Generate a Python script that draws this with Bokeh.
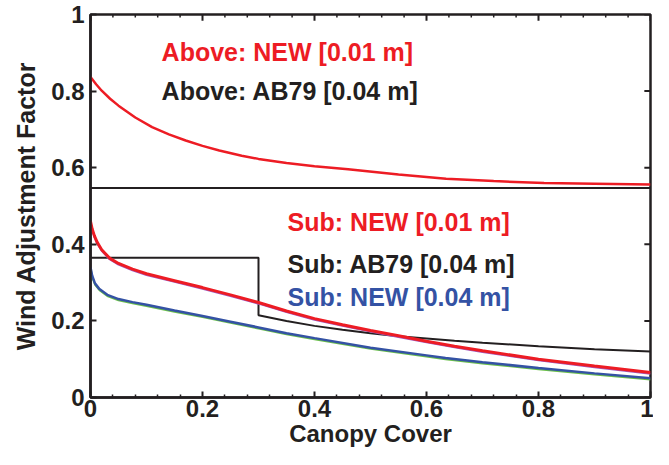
from bokeh.plotting import figure
from bokeh.models import FixedTicker, CustomJSTickFormatter, Range1d, Label
from bokeh.embed import file_html
from bokeh.resources import INLINE

# ---- data ----
above_new_x = [0, 0.01, 0.02, 0.035, 0.05, 0.08, 0.11, 0.14, 0.17, 0.2, 0.23, 0.27, 0.3, 0.35, 0.4, 0.46, 0.55, 0.635, 0.72, 0.81, 0.9, 1.0]
above_new_y = [0.837, 0.818, 0.801, 0.78, 0.762, 0.731, 0.706, 0.687, 0.671, 0.657, 0.645, 0.631, 0.623, 0.612, 0.604, 0.596, 0.582, 0.571, 0.565, 0.56, 0.558, 0.556]

above_ab79_x = [0, 1.0]
above_ab79_y = [0.547, 0.547]

sub_ab79_x = [0, 0.3, 0.3, 0.35, 0.4, 0.45, 0.5, 0.55, 0.6, 0.65, 0.7, 0.8, 0.9, 1.0]
sub_ab79_y = [0.365, 0.365, 0.215, 0.2, 0.187, 0.177, 0.168, 0.16, 0.154, 0.148, 0.143, 0.134, 0.126, 0.12]

sub_new01_x = [0, 0.003, 0.007, 0.012, 0.02, 0.034, 0.05, 0.075, 0.1, 0.15, 0.2, 0.25, 0.3, 0.35, 0.4, 0.45, 0.5, 0.55, 0.6, 0.65, 0.7, 0.8, 0.9, 1.0]
sub_new01_y = [0.46, 0.44, 0.422, 0.405, 0.386, 0.364, 0.35, 0.335, 0.323, 0.305, 0.287, 0.268, 0.248, 0.226, 0.206, 0.19, 0.175, 0.161, 0.147, 0.134, 0.122, 0.1, 0.082, 0.065]
sub_new01b_y = [0.457, 0.437, 0.419, 0.402, 0.383, 0.361, 0.347, 0.332, 0.32, 0.302, 0.284, 0.265, 0.245, 0.223, 0.203, 0.187, 0.172, 0.158, 0.144, 0.131, 0.119, 0.097, 0.079, 0.062]

sub_new04_x = [0, 0.003, 0.008, 0.016, 0.03, 0.05, 0.075, 0.1, 0.15, 0.2, 0.25, 0.3, 0.35, 0.4, 0.5, 0.6, 0.634, 0.7, 0.8, 0.9, 1.0]
sub_new04_y = [0.34, 0.318, 0.298, 0.283, 0.268, 0.257, 0.249, 0.242, 0.227, 0.213, 0.198, 0.183, 0.168, 0.155, 0.13, 0.11, 0.103, 0.092, 0.077, 0.063, 0.05]
sub_new04b_y = [0.337, 0.315, 0.295, 0.28, 0.265, 0.254, 0.246, 0.239, 0.224, 0.21, 0.195, 0.18, 0.165, 0.152, 0.127, 0.107, 0.1, 0.089, 0.074, 0.06, 0.047]

x_ticks = [0, 0.2, 0.4, 0.6, 0.8, 1.0]
x_minor = [0.04, 0.08, 0.12, 0.16, 0.24, 0.28, 0.32, 0.36, 0.44, 0.48, 0.52, 0.56,
           0.64, 0.68, 0.72, 0.76, 0.84, 0.88, 0.92, 0.96]
y_ticks = [0, 0.2, 0.4, 0.6, 0.8, 1.0]

labels = [
    ("Above: NEW [0.01 m]", 0.127, 0.903, "#ed1c24"),
    ("Above: AB79 [0.04 m]", 0.127, 0.800, "#231f20"),
    ("Sub: NEW [0.01 m]", 0.352, 0.458, "#ed1c24"),
    ("Sub: AB79 [0.04 m]", 0.352, 0.348, "#231f20"),
    ("Sub: NEW [0.04 m]", 0.352, 0.262, "#3452a4"),
]

RED = "#ed1c24"
BLACK = "#231f20"
BLUE = "#3452a4"
FONT = "Liberation Sans"

p = figure(width=653, height=449, output_backend="svg", toolbar_location=None,
           x_range=Range1d(0, 1), y_range=Range1d(0, 1),
           min_border_left=90, min_border_right=3, min_border_top=14, min_border_bottom=52)
p.background_fill_color = "white"
p.border_fill_color = "white"
p.xgrid.visible = False
p.ygrid.visible = False
p.outline_line_color = BLACK
p.outline_line_width = 2.5

fmt = CustomJSTickFormatter(code="return Number(tick.toFixed(1)).toString();")

def style_axis(ax, minor=True):
    ax.axis_line_color = BLACK
    ax.axis_line_width = 2.5
    ax.major_tick_in = 6
    ax.major_tick_out = 0
    ax.major_tick_line_width = 2
    ax.major_tick_line_color = BLACK
    ax.minor_tick_in = 3 if minor else 0
    ax.minor_tick_out = 0
    ax.minor_tick_line_width = 1.5
    ax.minor_tick_line_color = BLACK if minor else None
    ax.formatter = fmt
    ax.major_label_text_font = FONT
    ax.major_label_text_font_style = "bold"
    ax.major_label_text_font_size = "24px"
    ax.major_label_text_color = BLACK
    ax.axis_label_text_font = FONT
    ax.axis_label_text_font_style = "bold"
    ax.axis_label_text_font_size = "24px"
    ax.axis_label_text_color = BLACK

p.xaxis.ticker = FixedTicker(ticks=x_ticks, minor_ticks=x_minor)
p.yaxis.ticker = FixedTicker(ticks=y_ticks, minor_ticks=[])
style_axis(p.xaxis[0])
style_axis(p.yaxis[0], minor=False)
p.xaxis.axis_label = "Canopy Cover"
p.yaxis.axis_label = "Wind Adjustment Factor"
p.yaxis.axis_label_text_font_size = "25px"
p.xaxis.major_label_standoff = 2
p.yaxis.major_label_standoff = 6
p.xaxis.axis_label_standoff = 0
p.yaxis.axis_label_standoff = 8

# tick marks on the top and right edges of the frame box
top_major_len = 0.016
top_minor_len = 0.008
right_major_len = 0.011
p.segment(x0=x_ticks, y0=[1.0] * len(x_ticks), x1=x_ticks, y1=[1.0 - top_major_len] * len(x_ticks),
          line_color=BLACK, line_width=2)
p.segment(x0=x_minor, y0=[1.0] * len(x_minor), x1=x_minor, y1=[1.0 - top_minor_len] * len(x_minor),
          line_color=BLACK, line_width=1.5)
p.segment(x0=[1.0] * len(y_ticks), y0=y_ticks, x1=[1.0 - right_major_len] * len(y_ticks), y1=y_ticks,
          line_color=BLACK, line_width=2)

p.line(above_ab79_x, above_ab79_y, line_color=BLACK, line_width=2)
p.line(above_new_x, above_new_y, line_color=RED, line_width=2.5)
p.line(sub_ab79_x, sub_ab79_y, line_color=BLACK, line_width=2)
p.line(sub_new01_x, sub_new01b_y, line_color="#a05cc0", line_width=2)
p.line(sub_new01_x, sub_new01_y, line_color=RED, line_width=3)
p.line(sub_new04_x, sub_new04b_y, line_color="#6cc04a", line_width=2)
p.line(sub_new04_x, sub_new04_y, line_color=BLUE, line_width=2.5)

for txt, lx, ly, col in labels:
    p.add_layout(Label(x=lx, y=ly, text=txt, text_color=col, text_font=FONT,
                       text_font_style="bold", text_font_size="25px",
                       text_baseline="middle", text_align="left"))

open("out.html", "w").write(file_html(p, INLINE))
